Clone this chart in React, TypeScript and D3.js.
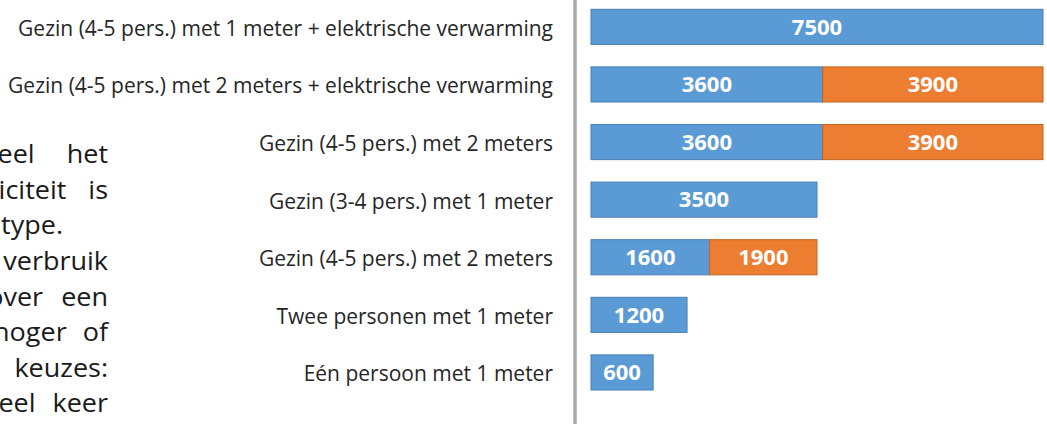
import React from "react"
import * as d3 from "d3"

// Data
const categories = [
  "Gezin (4-5 pers.) met 1 meter + elektrische verwarming",
  "Gezin (4-5 pers.) met 2 meters + elektrische verwarming",
  "Gezin (4-5 pers.) met 2 meters",
  "Gezin (3-4 pers.) met 1 meter",
  "Gezin (4-5 pers.) met 2 meters",
  "Twee personen met 1 meter",
  "Eén persoon met 1 meter",
]
const meter1 = [7500, 3600, 3600, 3500, 1600, 1200, 600]
const meter2 = [0, 3900, 3900, 0, 1900, 0, 0]
const seriesKeys = ["meter1", "meter2"]
const seriesColors = ["#5b9bd5", "#ed7d31"]
const seriesStrokes = ["#4a7fb3", "#c0651f"]
const xDomain = [-500, 7500]

// clipped paragraph on the left (justified text, cut by the crop)
const paragraphLines = [
  "Hieronder ziet u hoeveel het",
  "jaarlijkse verbruik van elektriciteit is",
  "afhankelijk van het type.",
  "Let op: dit is een gemiddeld verbruik",
  "uw verbruik kan over een",
  "jaar dus iets hoger of",
  "lager liggen, afhankelijk van uw keuzes:",
  "hoeveel keer",
]
// extra space between words (justified lines), in px
const paragraphSpacing = [25, 15, 0, 6, 11, 9, 8, 10]

export default function App() {
  const width = 1047
  const height = 424
  const stretch = 1.08

  const rows = categories.map((c, i) => ({ cat: c, idx: i, meter1: meter1[i], meter2: meter2[i] }))
  const stacked = d3.stack<any>().keys(seriesKeys)(rows)

  const x = d3.scaleLinear().domain(xDomain).range([591, 1043])
  const y = d3
    .scaleBand<number>()
    .domain(d3.range(categories.length))
    .range([-8, 407.3])
    .paddingInner(0.39)
    .paddingOuter(0.3)
  const bw = y.bandwidth()
  const xs = (v: number) => (v === 0 ? x.range()[0] : x(v))

  return (
    <svg
      width={width}
      height={height}
      style={{ position: "absolute", left: 0, top: 0, background: "#fff" }}
    >
      {/* paragraph */}
      <g
        transform={`scale(${stretch},1)`}
        fontFamily="'Open Sans', 'Noto Sans', sans-serif"
        fontSize={25}
        fill="#1a1a1a"
      >
        {paragraphLines.map((line, i) => (
          <text
            key={i}
            x={(i === 2 ? 63 : 108) / stretch}
            y={163.3 + i * 35.6}
            textAnchor="end"
            style={{ wordSpacing: `${paragraphSpacing[i] / stretch}px` }}
          >
            {line}
          </text>
        ))}
      </g>

      {/* category labels */}
      <g fontFamily="'Open Sans', 'Noto Sans', sans-serif" fontSize={21} fill="#262626">
        {categories.map((c, i) => (
          <text key={i} x={553} y={(y(i) as number) + bw / 2 + 9} textAnchor="end">
            {c}
          </text>
        ))}
      </g>

      {/* axis line */}
      <line x1={575} x2={575} y1={0} y2={height} stroke="#a8a8a8" strokeWidth={3.5} />

      {/* bars */}
      {stacked.map((s, si) => (
        <g key={s.key}>
          {s
            .filter((d) => d[1] - d[0] > 0)
            .map((d) => {
              const i = (d.data as any).idx
              const x0 = xs(d[0])
              const x1 = x(d[1])
              const yy = y(i) as number
              const value = d[1] - d[0]
              return (
                <g key={i}>
                  <rect
                    x={x0}
                    y={yy}
                    width={x1 - x0}
                    height={bw}
                    fill={seriesColors[si]}
                    stroke={seriesStrokes[si]}
                    strokeWidth={1}
                  />
                  <text
                    x={(x0 + x1) / 2}
                    y={yy + bw / 2}
                    dy="0.35em"
                    textAnchor="middle"
                    fill="#fff"
                    fontFamily="'Open Sans', 'Noto Sans', sans-serif"
                    fontWeight="bold"
                    fontSize={22}
                  >
                    {value}
                  </text>
                </g>
              )
            })}
        </g>
      ))}
    </svg>
  )
}
